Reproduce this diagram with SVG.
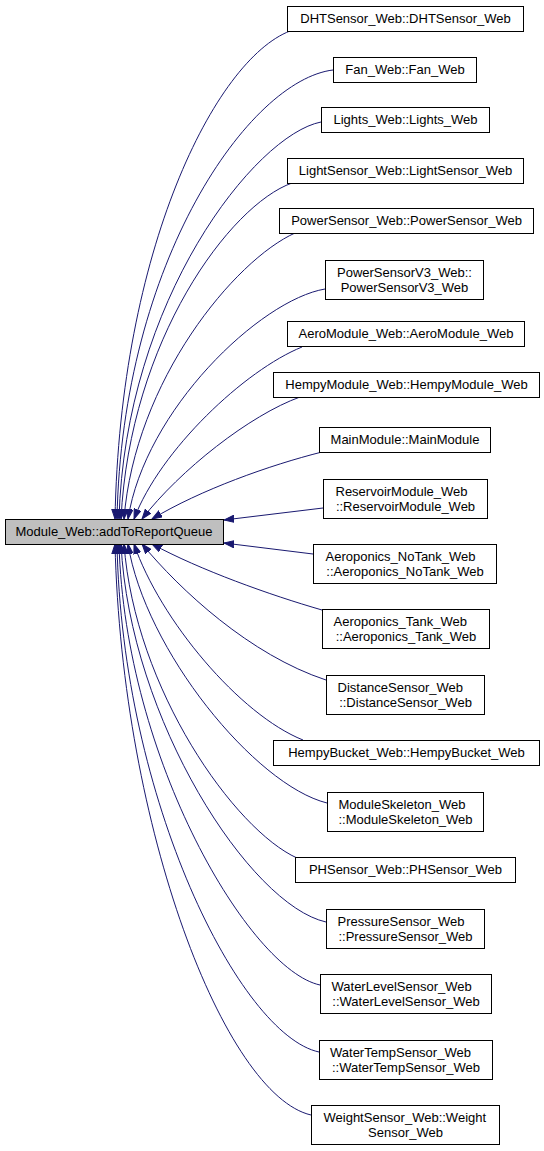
<svg xmlns="http://www.w3.org/2000/svg" width="544" height="1151" viewBox="0 0 544 1151">
<style>
.n rect{fill:#ffffff;stroke:#000000;stroke-width:1}
.m rect{fill:#bfbfbf;stroke:#000000;stroke-width:1}
text{font-family:"Liberation Sans",Arial,Helvetica,sans-serif;font-size:13px;fill:#000000}
.c{text-anchor:middle}
.e path{fill:none;stroke:#191970;stroke-width:1;marker-end:url(#ah)}
</style>
<defs>
<marker id="ah" markerWidth="11" markerHeight="8" refX="10" refY="4" orient="auto" markerUnits="userSpaceOnUse">
<path d="M0,0.5 L10,4 L0,7.5 z" fill="#191970" stroke="#191970" stroke-width="1"/>
</marker>
</defs>
<rect width="544" height="1151" fill="#ffffff"/>
<g id="edges" class="e">
<path d="M290,31 C215,60 120,250 115,519"/>
<path d="M333,70 C250,80 122,260 117,519"/>
<path d="M321,122 C255,135 125,300 119,519"/>
<path d="M292,183 C230,205 130,340 121,519"/>
<path d="M295,233 C235,260 135,380 124,519"/>
<path d="M325,289 C260,300 145,410 128,519"/>
<path d="M302,347 C245,370 160,450 134,519"/>
<path d="M300,397 C250,415 180,470 142,519"/>
<path d="M322,452 C270,465 200,490 152,519"/>
<path d="M323,508 L224,520"/>
<path d="M313,554 L224,543"/>
<path d="M322,610 C270,595 200,570 152,544"/>
<path d="M326,680 C250,655 180,590 142,544"/>
<path d="M303,740 C240,715 160,620 134,544"/>
<path d="M327,803 C255,785 145,650 128,544"/>
<path d="M297,858 C235,830 135,690 124,544"/>
<path d="M326,922 C250,905 130,720 121,544"/>
<path d="M320,985 C250,970 125,760 119,544"/>
<path d="M319,1052 C240,1035 122,800 117,544"/>
<path d="M311,1115 C225,1095 122,830 115,544"/>
</g>
<g id="main" class="m"><rect x="5.5" y="519.5" width="218" height="25"/><text class="c" x="114" y="536">Module_Web::addToReportQueue</text></g>
<g id="n1" class="n"><rect x="287.5" y="6.5" width="236" height="25"/><text class="c" x="405.5" y="23">DHTSensor_Web::DHTSensor_Web</text></g>
<g id="n2" class="n"><rect x="333.5" y="57.5" width="143" height="25"/><text class="c" x="405" y="74">Fan_Web::Fan_Web</text></g>
<g id="n3" class="n"><rect x="321.5" y="107.5" width="168" height="25"/><text class="c" x="405.5" y="124">Lights_Web::Lights_Web</text></g>
<g id="n4" class="n"><rect x="287.5" y="158.5" width="236" height="25"/><text class="c" x="405.5" y="175">LightSensor_Web::LightSensor_Web</text></g>
<g id="n5" class="n"><rect x="279.5" y="208.5" width="254" height="25"/><text class="c" x="406.5" y="225">PowerSensor_Web::PowerSensor_Web</text></g>
<g id="n6" class="n"><rect x="325.5" y="260.5" width="158" height="39"/><text x="337" y="277">PowerSensorV3_Web::</text><text class="c" x="404.5" y="292">PowerSensorV3_Web</text></g>
<g id="n7" class="n"><rect x="287.5" y="321.5" width="237" height="25"/><text class="c" x="406" y="338">AeroModule_Web::AeroModule_Web</text></g>
<g id="n8" class="n"><rect x="273.5" y="372.5" width="266" height="25"/><text class="c" x="406.5" y="389">HempyModule_Web::HempyModule_Web</text></g>
<g id="n9" class="n"><rect x="319.5" y="427.5" width="171" height="25"/><text class="c" x="405" y="444">MainModule::MainModule</text></g>
<g id="n10" class="n"><rect x="323.5" y="479.5" width="164" height="39"/><text x="335.5" y="496">ReservoirModule_Web</text><text class="c" x="405.5" y="511">::ReservoirModule_Web</text></g>
<g id="n11" class="n"><rect x="313.5" y="544.5" width="183" height="39"/><text x="325.5" y="561">Aeroponics_NoTank_Web</text><text class="c" x="405" y="576">::Aeroponics_NoTank_Web</text></g>
<g id="n12" class="n"><rect x="322.5" y="609.5" width="167" height="39"/><text x="333.5" y="626">Aeroponics_Tank_Web</text><text class="c" x="406" y="641">::Aeroponics_Tank_Web</text></g>
<g id="n13" class="n"><rect x="326.5" y="675.5" width="158" height="39"/><text x="337.5" y="692">DistanceSensor_Web</text><text class="c" x="405.5" y="707">::DistanceSensor_Web</text></g>
<g id="n14" class="n"><rect x="273.5" y="740.5" width="266" height="25"/><text class="c" x="406.5" y="757">HempyBucket_Web::HempyBucket_Web</text></g>
<g id="n15" class="n"><rect x="327.5" y="792.5" width="156" height="39"/><text x="338.5" y="809">ModuleSkeleton_Web</text><text class="c" x="405.5" y="824">::ModuleSkeleton_Web</text></g>
<g id="n16" class="n"><rect x="295.5" y="857.5" width="220" height="25"/><text class="c" x="405.5" y="874">PHSensor_Web::PHSensor_Web</text></g>
<g id="n17" class="n"><rect x="326.5" y="909.5" width="158" height="39"/><text x="337.5" y="926">PressureSensor_Web</text><text class="c" x="405.5" y="941">::PressureSensor_Web</text></g>
<g id="n18" class="n"><rect x="320.5" y="974.5" width="171" height="39"/><text x="331.5" y="991">WaterLevelSensor_Web</text><text class="c" x="406" y="1006">::WaterLevelSensor_Web</text></g>
<g id="n19" class="n"><rect x="319.5" y="1040.5" width="173" height="39"/><text x="330" y="1057">WaterTempSensor_Web</text><text class="c" x="406" y="1072">::WaterTempSensor_Web</text></g>
<g id="n20" class="n"><rect x="311.5" y="1105.5" width="188" height="39"/><text x="323.5" y="1122">WeightSensor_Web::Weight</text><text class="c" x="405.5" y="1137">Sensor_Web</text></g>
</svg>
